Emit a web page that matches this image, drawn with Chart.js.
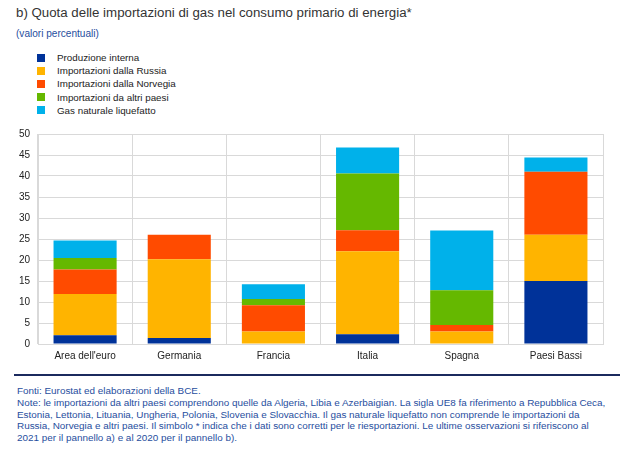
<!DOCTYPE html>
<html><head><meta charset="utf-8">
<script src="https://cdn.jsdelivr.net/npm/chart.js@4/dist/chart.umd.min.js"></script>
<style>
body{margin:0;width:625px;height:456px;background:#fff;font-family:"Liberation Sans",Arial,sans-serif;position:relative;overflow:hidden}
#title{position:absolute;left:16px;top:5px;font-size:13.3px;color:#333;white-space:nowrap}
#sub{position:absolute;left:16px;top:28px;font-size:8.8px;color:#1f4e9e;white-space:nowrap}
#legend{position:absolute;left:37px;top:51px;font-size:9.8px;color:#222}
.li{height:13.2px;display:flex;align-items:center;white-space:nowrap}
.sw{width:8px;height:8px;margin-right:12px}
#wrap{position:absolute;left:0;top:120px;width:625px;height:250px}
#rule{position:absolute;left:14px;top:374px;width:606px;height:2px;background:#1b2a5e}
#notes{position:absolute;left:17px;top:385px;font-size:10px;line-height:11.8px;color:#1f4e9e;white-space:nowrap}
</style></head><body>
<div id="title">b) Quota delle importazioni di gas nel consumo primario di energia*</div>
<div id="sub">(valori percentuali)</div>
<div id="legend"></div>
<div id="wrap"><canvas id="c" width="625" height="250"></canvas></div>
<div id="rule"></div>
<div id="notes">Fonti: Eurostat ed elaborazioni della BCE.<br><span id="l2">Note: le importazioni da altri paesi comprendono quelle da Algeria, Libia e Azerbaigian. La sigla UE8 fa riferimento a Repubblica Ceca,</span><br>Estonia, Lettonia, Lituania, Ungheria, Polonia, Slovenia e Slovacchia. Il gas naturale liquefatto non comprende le importazioni da<br>Russia, Norvegia e altri paesi. Il simbolo * indica che i dati sono corretti per le riesportazioni. Le ultime osservazioni si riferiscono al<br>2021 per il pannello a) e al 2020 per il pannello b).</div>
<script>
const categories = ["Area dell'euro","Germania","Francia","Italia","Spagna","Paesi Bassi"];
const seriesNames = ["Produzione interna","Importazioni dalla Russia","Importazioni dalla Norvegia","Importazioni da altri paesi","Gas naturale liquefatto"];
const produzioneInterna = [2.1, 1.4, 0, 2.3, 0, 15.0];
const importRussia = [9.8, 18.75, 2.95, 19.8, 3.0, 11.0];
const importNorvegia = [5.85, 5.85, 6.25, 5.0, 1.5, 15.0];
const importAltri = [2.75, 0, 1.5, 13.5, 8.3, 0];
const gnl = [4.15, 0, 3.5, 6.2, 14.25, 3.4];
const yTicks = [0,5,10,15,20,25,30,35,40,45,50];
const colors = ["#003299","#FFB400","#FF4B00","#65B800","#00B1EA"];
const values = [produzioneInterna, importRussia, importNorvegia, importAltri, gnl];

const lg = document.getElementById('legend');
seriesNames.forEach((n,i)=>{
  const d=document.createElement('div');d.className='li';
  d.innerHTML='<span class="sw" style="background:'+colors[i]+'"></span>'+n;
  lg.appendChild(d);
});
// fit text widths to the reference
function fit(el, target){
  const w = el.getBoundingClientRect().width;
  const fs = parseFloat(getComputedStyle(el).fontSize);
  return fs*target/w;
}
const t=document.getElementById('title'); t.style.fontSize=fit(t,396)+'px';
const s=document.getElementById('sub'); s.style.fontSize=fit(s,83)+'px';
const notes=document.getElementById('notes'); const l2=document.getElementById('l2');
notes.style.fontSize=fit(l2,589)+'px';

new Chart(document.getElementById('c'),{
  type:'bar',
  data:{labels:categories,datasets:seriesNames.map((n,i)=>({label:n,data:values[i],backgroundColor:colors[i],borderWidth:0,barPercentage:0.67,categoryPercentage:1}))},
  options:{
    responsive:false,animation:false,
    layout:{padding:{left:0,right:22,top:9,bottom:0}},
    plugins:{legend:{display:false},tooltip:{enabled:false}},
    scales:{
      x:{stacked:true,grid:{color:'#d9d9d9',offset:true,drawTicks:false},border:{color:'#d9d9d9'},
        ticks:{color:'#222',font:{family:'Liberation Sans',size:10},padding:6},
        afterFit:sc=>{sc.height=26;}},
      y:{stacked:true,min:0,max:50,grid:{color:'#d9d9d9',drawTicks:false},border:{color:'#d9d9d9'},
        afterBuildTicks:sc=>{sc.ticks=yTicks.map(v=>({value:v}));},
        ticks:{color:'#222',font:{family:'Liberation Sans',size:10},padding:8},
        afterFit:sc=>{sc.width=38;}}
    }
  }
});
</script>
</body></html>
